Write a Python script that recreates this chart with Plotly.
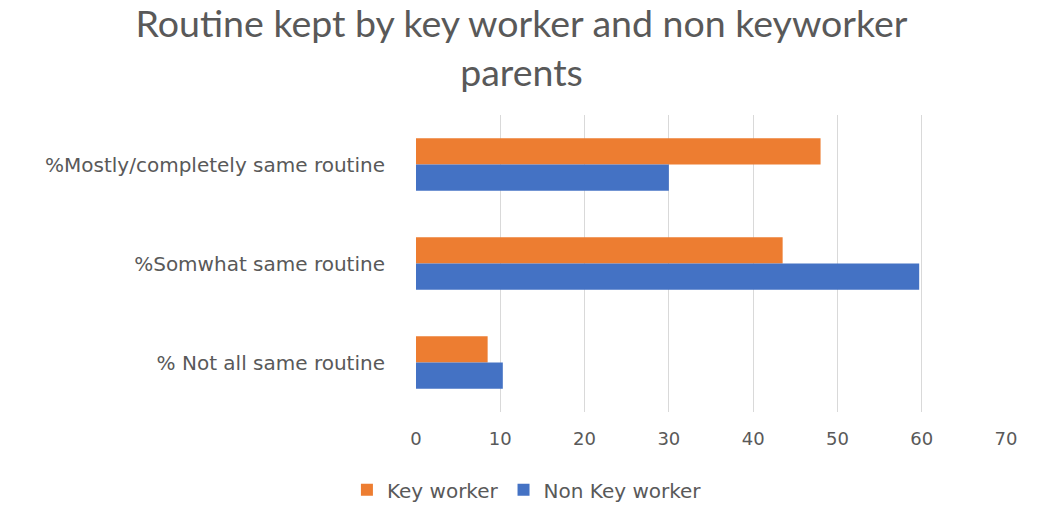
import plotly.graph_objects as go

categories = ["%Mostly/completely same routine", "%Somwhat same routine", "% Not all same routine"]
key_worker = [48.0, 43.5, 8.5]
non_key_worker = [30.0, 59.7, 10.3]
x_ticks = [0, 10, 20, 30, 40, 50, 60, 70]

TEXT = "#595959"
fig = go.Figure()
fig.add_trace(go.Bar(y=categories, x=key_worker, orientation="h", name="Key worker",
                     marker=dict(color="#ED7D31", line=dict(width=0))))
fig.add_trace(go.Bar(y=categories, x=non_key_worker, orientation="h", name="Non Key worker",
                     marker=dict(color="#4472C4", line=dict(width=0))))

fig.update_layout(
    width=1043, height=526,
    paper_bgcolor="white", plot_bgcolor="white",
    barmode="group", bargap=0.47, bargroupgap=0,
    margin=dict(l=416, r=37, t=115, b=114),
    title=dict(text="Routine kept by key worker and non keyworker<br>parents",
               x=0.5, xanchor="center", y=0.93, yanchor="top",
               font=dict(family="Lato", size=37.5, color=TEXT)),
    xaxis=dict(range=[0, 70], tickvals=x_ticks, showgrid=True, gridcolor="#D9D9D9",
               gridwidth=1, zeroline=False, showline=False,
               tickfont=dict(family="DejaVu Sans", size=18, color=TEXT), ticks="",
               ticklabelstandoff=14),
    yaxis=dict(autorange="reversed", showgrid=False, showline=False, ticks="",
               tickfont=dict(family="DejaVu Sans", size=20, color=TEXT),
               ticklabelstandoff=30),
    legend=dict(orientation="h", x=0.188, xanchor="center", y=-0.262, yanchor="middle",
                font=dict(family="DejaVu Sans", size=20, color=TEXT), traceorder="normal"),
    showlegend=True,
)

fig.write_html("out.html")
